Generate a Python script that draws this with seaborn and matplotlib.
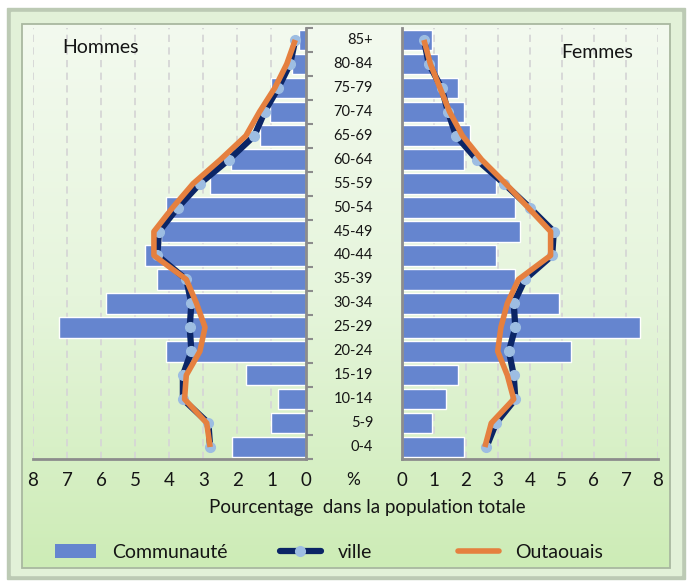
import numpy as np
import matplotlib
matplotlib.use("Agg")
import matplotlib.pyplot as plt
import matplotlib.transforms as mtransforms
from matplotlib.colors import LinearSegmentedColormap
from matplotlib.patches import Rectangle, Patch
from matplotlib.lines import Line2D
import seaborn as sns
import pandas as pd

# --- data (% of total population) ---
ages = ["85+", "80-84", "75-79", "70-74", "65-69", "60-64", "55-59", "50-54",
        "45-49", "40-44", "35-39", "30-34", "25-29", "20-24", "15-19", "10-14",
        "5-9", "0-4"]

hommes_communaute = [0.2, 0.4, 1.0, 1.05, 1.35, 2.2, 2.8, 4.1, 4.25, 4.7,
                     4.35, 5.85, 7.25, 4.1, 1.75, 0.8, 1.0, 2.15]
hommes_ville = [0.3, 0.45, 0.8, 1.2, 1.5, 2.25, 3.1, 3.75, 4.3, 4.35,
                3.5, 3.35, 3.4, 3.35, 3.6, 3.6, 2.85, 2.8]
hommes_outaouais = [0.3, 0.55, 0.9, 1.35, 1.75, 2.5, 3.3, 3.9, 4.45, 4.45,
                    3.5, 3.2, 2.95, 3.1, 3.5, 3.55, 2.9, 2.8]

femmes_communaute = [0.95, 1.15, 1.75, 1.95, 2.15, 1.95, 2.95, 3.55, 3.7, 2.95,
                     3.55, 4.9, 7.45, 5.3, 1.75, 1.4, 0.95, 1.95]
femmes_ville = [0.7, 0.85, 1.25, 1.45, 1.7, 2.35, 3.2, 4.0, 4.75, 4.7,
                3.85, 3.5, 3.55, 3.35, 3.5, 3.55, 2.95, 2.65]
femmes_outaouais = [0.7, 0.9, 1.2, 1.5, 1.9, 2.5, 3.25, 3.95, 4.65, 4.65,
                    3.65, 3.3, 3.1, 3.0, 3.3, 3.5, 2.8, 2.6]

xticks = list(range(0, 9))

# --- style ---
sns.set_style("white")
plt.rcParams['font.family'] = ['Lato', 'DejaVu Sans']
bar_col = "#6585cf"
navy = "#0b2566"
dot = "#9dbde2"
orange = "#e5803f"
grey = "#8c8c8c"
txt = "#151515"

W, H = 689, 583
fig = plt.figure(figsize=(W / 100, H / 100), dpi=100)

# background frame + green gradient
bg = fig.add_axes([0, 0, 1, 1], zorder=-10)
bg.add_patch(Rectangle((0, 0), W, H, color="white", zorder=0))
bg.add_patch(Rectangle((7, 8), W - 11, H - 12, color="#bccab4", zorder=1))
bg.add_patch(Rectangle((11, 12), W - 19, H - 20, color="#e2f1d8", zorder=1))
grad = np.linspace(0, 1, 256)[:, None]
cmap = LinearSegmentedColormap.from_list("g", ["#f3faef", "#e6f5dc", "#cdecb6"])
bg.imshow(grad, extent=(22, 670, 568, 24), cmap=cmap, aspect="auto", zorder=2)
bg.add_patch(Rectangle((22, 24), 648, 544, fill=False, edgecolor="#a9b8a0",
                       lw=1.3, zorder=3))
bg.set_xlim(0, W)
bg.set_ylim(H, 0)
bg.axis("off")

axL = fig.add_axes([33 / W, 1 - 459 / H, 272.5 / W, 431 / H])
axR = fig.add_axes([401.5 / W, 1 - 459 / H, 256.5 / W, 431 / H])

pos = np.arange(len(ages))
panels = [
    (axL, hommes_communaute, hommes_ville, hommes_outaouais),
    (axR, femmes_communaute, femmes_ville, femmes_outaouais),
]
for ax, comm, ville, outa in panels:
    ax.patch.set_alpha(0)
    df = pd.DataFrame({"age": ages, "pct": comm})
    sns.barplot(data=df, x="pct", y="age", order=ages, orient="h",
                color=bar_col, saturation=1, width=0.86, ax=ax, zorder=2)
    ax.plot(ville, pos, color=navy, lw=4.5, marker="o", ms=7,
            mfc=dot, mec=dot, zorder=3)
    ax.plot(outa, pos, color=orange, lw=4.0, zorder=4, solid_capstyle="butt")
    ax.set_ylim(17.5, -0.5)
    ax.set_xticks(xticks)
    ax.set_yticks(np.arange(-0.5, 18, 1))
    ax.set_yticklabels([])
    ax.set_xlabel("")
    ax.set_ylabel("")
    ax.set_axisbelow(True)
    ax.xaxis.grid(True, ls=(0, (4, 3)), color="#d6d6d6", lw=1.3)
    ax.tick_params(axis="x", length=5, width=1.5, color=grey, pad=4,
                   labelsize=13.5, labelcolor=txt)
    ax.tick_params(axis="y", length=5, width=1.5, color=grey, direction="out")
    ax.spines["top"].set_visible(False)
    for s in ax.spines.values():
        s.set_color(grey)
        s.set_linewidth(2)

axL.set_xlim(8, 0)
axL.yaxis.tick_right()
axL.spines["left"].set_visible(False)
axR.set_xlim(0, 8)
axR.spines["right"].set_visible(False)

axL.text(0.106, 0.954, "Hommes", transform=axL.transAxes, fontsize=14,
         color=txt, ha="left", va="center")
axR.text(0.622, 0.944, "Femmes", transform=axR.transAxes, fontsize=14,
         color=txt, ha="left", va="center")

# age labels in the middle gap
tr = mtransforms.blended_transform_factory(axR.transAxes, axR.transData)
for i, a in enumerate(ages):
    axR.text(-0.111, i, a, transform=tr, ha="right", va="center",
             fontsize=10.5, color=txt)

fig.text(353 / W, 1 - 480 / H, "%", ha="center", va="center", fontsize=12.5, color=txt)
fig.text(367 / W, 1 - 507 / H, "Pourcentage  dans la population totale",
         ha="center", va="center", fontsize=13.5, color=txt)

# legend, one entry each so they sit where the original places them
items = [
    (Patch(facecolor=bar_col, edgecolor="none"), "Communauté", 55),
    (Line2D([], [], color=navy, lw=4.5, marker="o", ms=7, mfc=dot, mec=dot), "ville", 280),
    (Line2D([], [], color=orange, lw=4.0), "Outaouais", 458),
]
for h, lab, x in items:
    fig.legend([h], [lab], loc="center left", bbox_to_anchor=(x / W, 1 - 552 / H),
               frameon=False, fontsize=14, handlelength=2.1, handletextpad=0.85,
               borderpad=0, borderaxespad=0, labelcolor=txt)

fig.savefig("out.png", dpi=100)
